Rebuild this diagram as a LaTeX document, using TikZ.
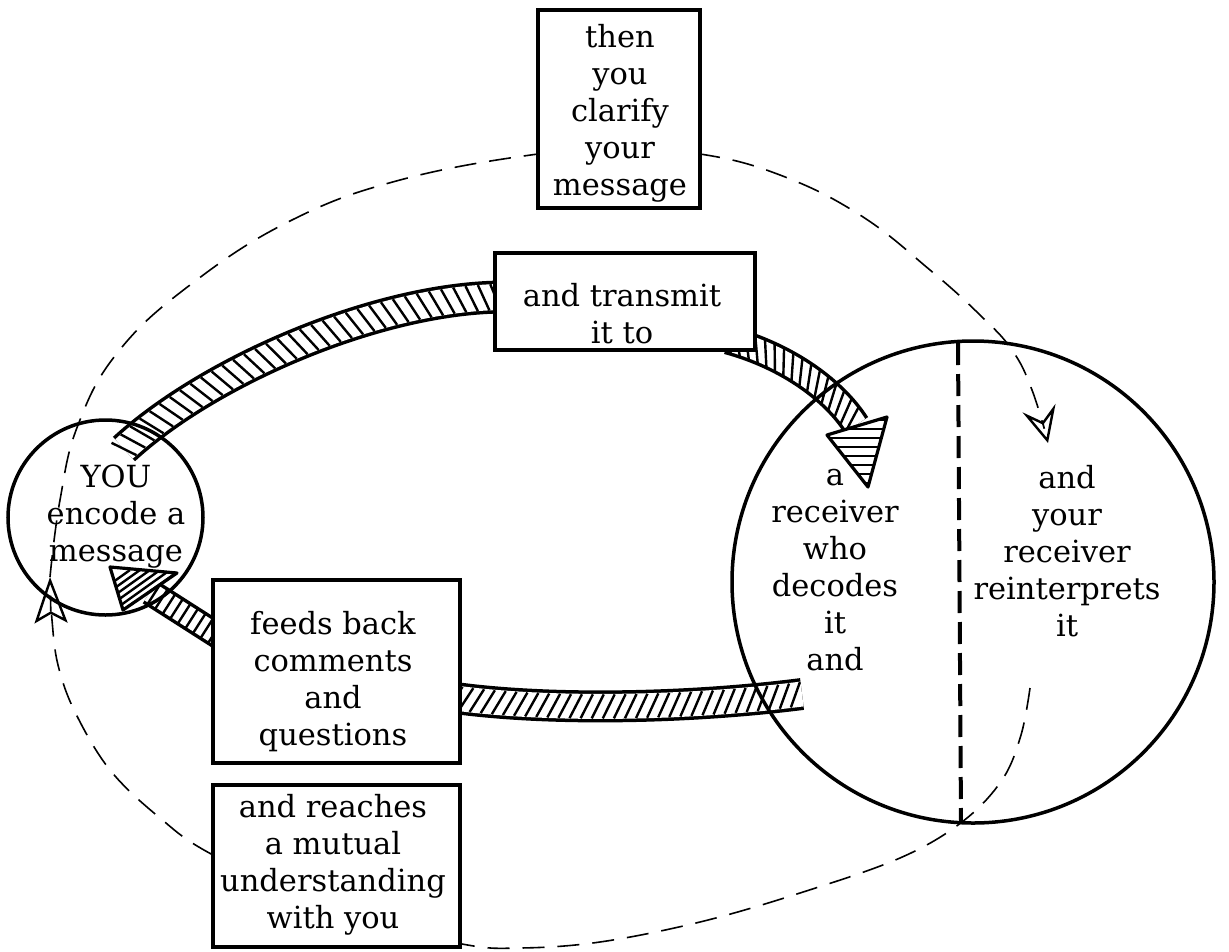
\documentclass[tikz,border=0pt]{standalone}
\usepackage{fontspec}
\setmainfont{DejaVu Serif}
\usetikzlibrary{arrows.meta,decorations.markings}
\tikzset{
  txt/.style={font=\fontsize{30.5}{37}\selectfont, align=center, inner sep=0pt},
  boxshape/.style={draw, line width=4pt, fill=white, inner sep=0pt},
  ring/.style={circle, draw, line width=3.5pt, inner sep=0pt},
  loopline/.style={line width=1.6pt, dash pattern=on 22pt off 13pt},
  divider/.style={line width=4pt, dash pattern=on 22pt off 9pt},
  headright/.style={-{Stealth[open, length=36pt, width=34pt, inset=14pt, line width=2.4pt]}},
  headleft/.style={-{Stealth[open, length=46pt, width=33pt, inset=9pt, line width=2.4pt]}},
  band/.style n args={3}{white, line width=#2, preaction={draw=black, line width=#1},
     postaction={decorate, decoration={markings,
       mark=between positions 0 and 1 step #3 with {\draw[black, line width=2.4pt] (\hx,-\hy) -- (-\hx,\hy);}}}},
  hatchlines/.style={black, line width=2.4pt},
  headedge/.style={draw=black, line width=3.2pt, line join=round}
}
\begin{document}
\begin{tikzpicture}[x=1pt,y=-1pt]
\useasboundingbox (0,0) rectangle (1229,951);

% ---------- named points ----------
\coordinate (b1s) at (124,449);
\coordinate (b1e) at (505,297);
\coordinate (b2s) at (728,340);
\coordinate (b2e) at (856,425);
\coordinate (b3s) at (455,698);
\coordinate (b3e) at (802,694);
\coordinate (b4s) at (222,638);
\coordinate (b4e) at (150,592);
\coordinate (h2a) at (827,435);
\coordinate (h2b) at (887,417);
\coordinate (h2t) at (868,487);
\coordinate (h4a) at (177,573);
\coordinate (h4b) at (123,610);
\coordinate (h4t) at (110,567);
\coordinate (la) at (50,577);
\coordinate (ra) at (1048,443);
\coordinate (ls) at (1030,688);
\coordinate (dvt) at (958,343);
\coordinate (dvb) at (961,822);

% ---------- dashed loop ----------
\draw[loopline, headleft] plot[smooth, tension=0.6] coordinates {
  (ls) (1021,735) (1002,780) (962,822) (900,858) (800,893)
  (700,922) (600,942) (520,948) (462,944) (340,915) (213,855)
  (160,818) (110,770) (75,712) (58,665) (52,620) (la)};
\draw[loopline, headright] plot[smooth, tension=0.7] coordinates {
  (la) (60,500) (78,425) (118,352) (190,285) (290,221) (400,180)
  (538,154) (620,150) (700,154) (780,175) (860,215) (930,270)
  (980,315) (1012,350) (1032,390) (ra)};

% ---------- hatched bands ----------
\def\hx{5pt}\def\hy{13pt}
\draw[band={33pt}{26pt}{12pt}] (b1s) .. controls (210,370) and (380,297) .. (b1e);
\def\hx{6pt}\def\hy{12pt}
\draw[band={29pt}{22pt}{10pt}] (b2s) .. controls (790,357) and (835,392) .. (b2e);
\def\hx{-6pt}\def\hy{12pt}
\draw[band={32pt}{25pt}{11pt}] (b3s) .. controls (560,712) and (700,707) .. (b3e);
\def\hx{0pt}\def\hy{11pt}
\draw[band={27pt}{20pt}{9pt}] (b4s) -- (b4e);

% arrowhead into the receiver
\fill[white] (h2a) -- (h2b) -- (h2t) -- cycle;
\begin{scope}
  \clip (h2a) -- (h2b) -- (h2t) -- cycle;
  \foreach \yy in {420,429,...,492} \draw[hatchlines] (815,\yy) -- (895,\yy);
\end{scope}
\draw[headedge] (h2a) -- (h2b) -- (h2t) -- cycle;

% arrowhead into YOU
\fill[white] (h4a) -- (h4b) -- (h4t) -- cycle;
\begin{scope}
  \clip (h4a) -- (h4b) -- (h4t) -- cycle;
  \foreach \xx in {60,70,...,200} \draw[hatchlines] (\xx,620) -- ++(70,-50);
\end{scope}
\draw[headedge] (h4a) -- (h4b) -- (h4t) -- cycle;

% ---------- boxes ----------
\node[boxshape, minimum width=162, minimum height=198] (tbox) at (619,109) {};
\node[boxshape, minimum width=260, minimum height=97] (mbox) at (625,301.5) {};
\node[boxshape, minimum width=247, minimum height=183] (fbox) at (336.5,671.5) {};
\node[boxshape, minimum width=247, minimum height=162] (rbox) at (336.5,866) {};

% ---------- circles ----------
\node[ring, minimum size=195] (you) at (105.5,517.5) {};
\node[ring, minimum size=482] (rcv) at (973,582) {};
\draw[divider] (dvt) -- (dvb);

% ---------- texts ----------
\node[txt] (ttop) at (620,113) {then\\you\\clarify\\your\\message};
\node[txt] (tmid) at (622,314) {and transmit\\it to};
\node[txt] (tfb) at (333,682) {feeds back\\comments\\and\\questions};
\node[txt] (trc) at (333,865) {and reaches\\a mutual\\understanding\\with you};
\node[txt] (tyou) at (116,517) {YOU\\encode a\\message};
\node[txt] (tdec) at (835,570) {a\\receiver\\who\\decodes\\it\\and};
\node[txt] (trei) at (1067,551) {and\\your\\receiver\\reinterprets\\it};
\end{tikzpicture}
\end{document}
